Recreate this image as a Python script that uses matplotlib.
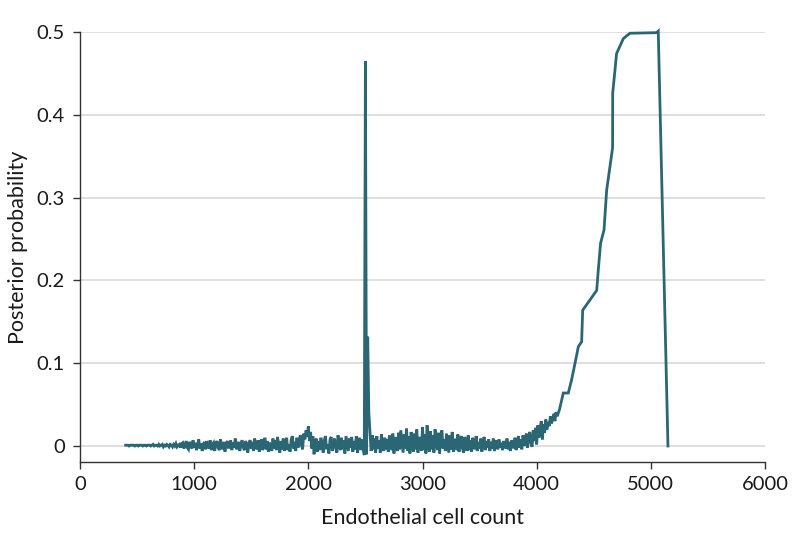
import numpy as np
import matplotlib
matplotlib.use("Agg")
import matplotlib.pyplot as plt

plt.rcParams['font.family'] = ['Lato', 'DejaVu Sans']

# Noisy part: x from 400 to 4190 step 10, values in thousandths
noisy_start = 400
noisy_step = 10
noisy_milli = [
    1, 1, 1, 0, 1, 1, 1, 1, 0, 1,
    1, 0, 1, 1, 1, 0, 1, 1, 0, 1,
    1, 1, 0, 1, 2, 0, 1, 1, 0, 2,
    0, 1, 2, -1, 1, 0, 2, 1, -1, 2,
    1, -1, 2, 0, 3, -1, 1, 2, -2, 3,
    4, -3, 1, 6, -2, -4, 5, 2, -3, 7,
    -2, 4, -5, 1, 8, -3, 3, -6, 2, 5,
    -4, 6, 0, -3, 7, -5, 2, 4, -6, 3,
    6, -2, -5, 8, 1, -4, 5, -7, 3, 6,
    -3, 2, 7, -5, 4, -2, 9, -4, 1, 5,
    -6, 3, 7, -2, -5, 6, 2, -8, 4, 7,
    -3, 5, -6, 9, 0, -4, 7, -7, 3, 8,
    -5, 2, 10, -4, 6, -7, 4, 1, -6, 9,
    -3, 7, -5, 11, 2, -8, 6, -4, 9, -6,
    4, 10, -5, 2, -7, 8, 12, -3, 5, -6,
    10, -2, 7, 13, 1, -4, 15, 8, 19, 11,
    24, 6, 17, -3, 12, -10, 5, 9, -7, 6,
    -5, 10, 3, -8, 7, 12, -4, 2, -9, 8,
    11, -6, 4, 9, -3, -8, 13, 2, -5, 10,
    -4, 7, -9, 12, 3, -6, 9, -2, 11, -7,
    6, -4, 12, -8, 3, 10, -5, 8, -3, -11,
    465, -10, 132, 40, 16, -6, 13, -4, 9, -8,
    12, -3, 7, -8, 14, 2, -6, 10, -4, 8,
    -7, 13, 4, -5, 15, -9, 11, 1, -6, 16,
    -4, 19, 6, -8, 14, -3, 21, -6, 12, -9,
    17, 2, -7, 15, -4, 20, -8, 11, 5, -6,
    23, -5, 14, -9, 25, 3, -7, 18, -4, 13,
    -8, 20, 6, -5, 16, -9, 11, 19, -3, 8,
    -6, 15, 3, -8, 13, -4, 17, -7, 9, 2,
    -5, 14, -7, 8, 12, -3, -8, 11, 4, -6,
    13, -5, 7, -7, 10, 2, -4, 12, -6, 5,
    -3, 9, -7, 4, 11, -5, 6, -2, 8, -6,
    5, -3, 9, -6, 2, 7, -4, 8, -2, 4,
    -5, 6, 1, -3, 9, -4, 5, -6, 7, 2,
    -3, 10, -5, 6, 12, -2, 8, -4, 13, 0,
    9, 15, -2, 11, 17, 3, -1, 19, 6, 22,
    2, 25, 10, 21, 30, 8, 26, 16, 32, 20,
    29, 24, 36, 27, 33, 39, 30, 41, 36, 40,
]

# Smooth upper part
smooth_x = [4200, 4233, 4277, 4306, 4336, 4365, 4394, 4403, 4526, 4540,
            4560, 4590, 4613, 4665, 4666, 4700, 4759, 4817, 5051, 5065, 5150]
smooth_y = [0.044, 0.064, 0.064, 0.080, 0.100, 0.120, 0.126, 0.164, 0.188, 0.213,
            0.245, 0.261, 0.309, 0.360, 0.426, 0.474, 0.492, 0.4985, 0.4992, 0.501, 0.0]

xticks = [0, 1000, 2000, 3000, 4000, 5000, 6000]
yticks = [0, 0.1, 0.2, 0.3, 0.4, 0.5]
ytick_labels = ['0', '0.1', '0.2', '0.3', '0.4', '0.5']

noisy_x = noisy_start + noisy_step * np.arange(len(noisy_milli))
noisy_y = np.array(noisy_milli) / 1000.0
x = np.concatenate([noisy_x, smooth_x])
y = np.concatenate([noisy_y, smooth_y])

color = '#2b6674'

fig = plt.figure(figsize=(7.94, 5.46), dpi=100)
ax = fig.add_axes([80/794, 1 - 462/546, (765-80)/794, (462-32)/546])

for yt in yticks:
    ax.axhline(yt, color='#dcdcdc', lw=1.3, zorder=1)

ax.plot(x, y, color=color, lw=2.0, zorder=3, clip_on=False, solid_joinstyle='miter')

ax.set_xlim(0, 6000)
ax.set_ylim(-0.0193, 0.5)
ax.set_xticks(xticks)
ax.set_yticks(yticks)
ax.set_yticklabels(ytick_labels)

for s in ['top', 'right']:
    ax.spines[s].set_visible(False)
for s in ['left', 'bottom']:
    ax.spines[s].set_color('#333333')
    ax.spines[s].set_linewidth(1.0)

ax.tick_params(axis='both', direction='out', length=5, width=1.0, color='#333333',
               labelsize=14.5, labelcolor='#1a1a1a')
ax.tick_params(axis='y', pad=6)
ax.tick_params(axis='x', pad=5)

ax.set_xlabel('Endothelial cell count', fontsize=15.5, color='#1a1a1a', labelpad=11)
ax.set_ylabel('Posterior probability', fontsize=15.5, color='#1a1a1a', labelpad=6)

fig.savefig('out.png', dpi=100)
